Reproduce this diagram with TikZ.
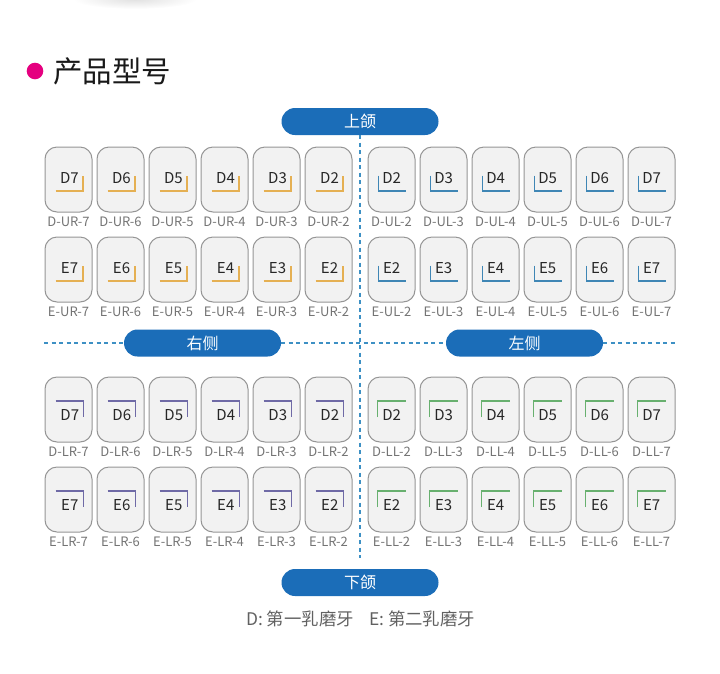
\documentclass[tikz,border=0pt]{standalone}
\usepackage{fontspec}
\setmainfont{Noto Sans CJK SC}
\definecolor{pillblue}{HTML}{1B6DB8}
\definecolor{guideblue}{HTML}{3D90C4}
\definecolor{pinkdot}{HTML}{E5007F}
\definecolor{toothfill}{HTML}{F2F2F2}
\definecolor{toothline}{HTML}{959595}
\definecolor{labelgray}{HTML}{747474}
\definecolor{urcol}{HTML}{E5B053}
\definecolor{ulcol}{HTML}{3F86B5}
\definecolor{lrcol}{HTML}{6F6AA6}
\definecolor{llcol}{HTML}{68B06F}
\tikzset{
  toothbox/.style={draw=toothline,fill=toothfill,line width=1pt,rounded corners=12pt,minimum width=47pt,minimum height=65pt,inner sep=0pt,outer sep=0pt,anchor=north west},
  toothtext/.style={inner sep=0pt,text=black!85,font=\fontsize{15}{17}\selectfont},
  codetext/.style={inner sep=0pt,text=labelgray,font=\fontsize{13}{15}\selectfont},
  pill/.style={fill=pillblue,rounded corners=13.5pt,minimum width=157pt,minimum height=27pt,inner sep=0pt,outer sep=0pt,text=white,font=\fontsize{16}{18}\selectfont},
  dashline/.style={guideblue,line width=1.3pt,dash pattern=on 4pt off 3.5pt},
  bracket/.style={line width=1.1pt},
  notetext/.style={inner sep=0pt,anchor=west,text=black!62,font=\fontsize{17.4}{20}\selectfont},
}
\newcommand\urcell[4]{%
  \node[toothbox] (b#3UR#4) at (#1,#2) {};
  \node[toothtext] (t#3UR#4) at ([shift={(24.5,31)}]b#3UR#4.north west) {#3#4};
  \node[codetext] (c#3UR#4) at ([shift={(23.5,74.5)}]b#3UR#4.north west) {#3-UR-#4};
  \draw[bracket,urcol] ([shift={(10.7,44)}]b#3UR#4.north west) -- ([shift={(38,44)}]b#3UR#4.north west) -- ([shift={(38,28.5)}]b#3UR#4.north west);
}
\newcommand\ulcell[4]{%
  \node[toothbox] (b#3UL#4) at (#1,#2) {};
  \node[toothtext] (t#3UL#4) at ([shift={(23.7,31)}]b#3UL#4.north west) {#3#4};
  \node[codetext] (c#3UL#4) at ([shift={(23.5,74.5)}]b#3UL#4.north west) {#3-UL-#4};
  \draw[bracket,ulcol] ([shift={(10.3,28.5)}]b#3UL#4.north west) -- ([shift={(10.3,44)}]b#3UL#4.north west) -- ([shift={(38,44)}]b#3UL#4.north west);
}
\newcommand\lrcell[4]{%
  \node[toothbox] (b#3LR#4) at (#1,#2) {};
  \node[toothtext] (t#3LR#4) at ([shift={(24.8,38)}]b#3LR#4.north west) {#3#4};
  \node[codetext] (c#3LR#4) at ([shift={(23.5,75)}]b#3LR#4.north west) {#3-LR-#4};
  \draw[bracket,lrcol] ([shift={(10.7,24)}]b#3LR#4.north west) -- ([shift={(38.5,24)}]b#3LR#4.north west) -- ([shift={(38.5,40)}]b#3LR#4.north west);
}
\newcommand\llcell[4]{%
  \node[toothbox] (b#3LL#4) at (#1,#2) {};
  \node[toothtext] (t#3LL#4) at ([shift={(23.7,38)}]b#3LL#4.north west) {#3#4};
  \node[codetext] (c#3LL#4) at ([shift={(23.5,75)}]b#3LL#4.north west) {#3-LL-#4};
  \draw[bracket,llcol] ([shift={(9.5,40)}]b#3LL#4.north west) -- ([shift={(9.5,24)}]b#3LL#4.north west) -- ([shift={(38,24)}]b#3LL#4.north west);
}
\begin{document}
\begin{tikzpicture}[x=1pt,y=-1pt]
\useasboundingbox (0,0) rectangle (720,673);
% pills
\node[pill] (upper) at (360,121.5) {上颌};
\node[pill] (right) at (202.5,343) {右侧};
\node[pill] (left) at (524.5,343) {左侧};
\node[pill] (lower) at (360,582.5) {下颌};
% guides
\coordinate (vend) at (360,558);
\coordinate (hl) at (44,343);
\coordinate (hr) at (675,343);
\draw[dashline] (upper.south) -- (vend);
\draw[dashline] (hl) -- (right.west);
\draw[dashline] (right.east) -- (left.west);
\draw[dashline] (left.east) -- (hr);
% heading
\fill[pinkdot] (35,71) circle (8.3);
\node[inner sep=0pt,anchor=west,text=black!90,font=\fontsize{29.5}{32}\selectfont] (head) at (53,71.5) {产品型号};
% teeth
\foreach \x/\n in {45/7,97/6,149/5,201/4,253/3,305/2}{
  \urcell{\x}{147}{D}{\n}
  \urcell{\x}{237}{E}{\n}
  \lrcell{\x}{377}{D}{\n}
  \lrcell{\x}{467}{E}{\n}
}
\foreach \x/\n in {368/2,420/3,472/4,524/5,576/6,628/7}{
  \ulcell{\x}{147}{D}{\n}
  \ulcell{\x}{237}{E}{\n}
  \llcell{\x}{377}{D}{\n}
  \llcell{\x}{467}{E}{\n}
}
% note
\node[notetext] (noteD) at (246,618.5) {D: 第一乳磨牙};
\node[notetext] (noteE) at (369,618.5) {E: 第二乳磨牙};
\begin{scope}
  \clip (0,0) rectangle (720,673);
  \shade[inner color=black!12,outer color=white] (135,-1) ellipse (62 and 10);
\end{scope}
\end{tikzpicture}
\end{document}
